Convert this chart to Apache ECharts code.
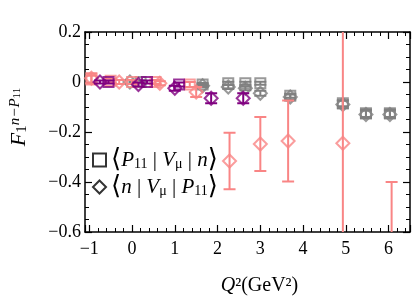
<!DOCTYPE html>
<html><head><meta charset="utf-8">
<script src="https://cdn.jsdelivr.net/npm/echarts@6/dist/echarts.min.js"></script>
<style>html,body{margin:0;padding:0;background:#fff}#c{width:415px;height:301px}</style>
</head><body><div id="c"></div>
<script>
// ---- data ----
// pink ensemble
const pinkSqX = [-0.95, -0.5, 0.0, 0.55, 1.35];
const pinkSqY = [0.01, 0.005, 0.0, 0.0, -0.01];
const pinkSqE = [0.015, 0.008, 0.008, 0.008, 0.01];
const pinkDiX = [-0.95, -0.3, 0.65, 1.5, 2.28, 3.0, 3.65, 4.93, 6.07];
const pinkDiY = [0.015, 0.0, -0.005, -0.04, -0.316, -0.248, -0.236, -0.245, -0.9];
const pinkDiE = [0.02, 0.008, 0.008, 0.02, 0.113, 0.108, 0.162, 1.0, 0.5];
// purple ensemble
const purpSqX = [-0.55, 0.35, 1.1];
const purpSqY = [0.0, 0.0, -0.01];
const purpSqE = [0.006, 0.006, 0.008];
const purpDiX = [-0.75, 0.15, 1.0, 1.85, 2.6];
const purpDiY = [0.0, -0.01, -0.025, -0.065, -0.065];
const purpDiE = [0.006, 0.008, 0.01, 0.02, 0.02];
// gray ensemble
const graySqX = [0.2, 1.65, 2.25, 2.65, 3.0, 3.7, 4.93, 5.47, 6.03];
const graySqY = [0.0, -0.01, -0.005, -0.005, -0.005, -0.055, -0.085, -0.125, -0.125];
const graySqE = [0.006, 0.006, 0.006, 0.006, 0.006, 0.008, 0.012, 0.015, 0.015];
const grayDiX = [-0.05, 1.65, 2.25, 2.65, 3.0, 3.7, 4.93, 5.47, 6.03];
const grayDiY = [0.0, -0.015, -0.02, -0.025, -0.045, -0.06, -0.09, -0.13, -0.13];
const grayDiE = [0.006, 0.006, 0.008, 0.008, 0.01, 0.01, 0.015, 0.015, 0.015];

const legendNames = ['sq', 'di'];

const PINK = '#f98585', PURP = '#800080', GRAY = '#808080';
const FONT = 'Liberation Serif';

function pts(xs, ys) { return xs.map((x, i) => [x, ys[i]]); }
function errs(xs, ys, es) { return xs.map((x, i) => [x, ys[i] - es[i], ys[i] + es[i]]); }

function errSeries(xs, ys, es, color, z) {
  return {
    type: 'custom', clip: true, z: z, silent: true,
    data: errs(xs, ys, es),
    renderItem: function (params, api) {
      const lo = api.coord([api.value(0), api.value(1)]);
      const hi = api.coord([api.value(0), api.value(2)]);
      const w = 6;
      const st = { stroke: color, lineWidth: 2 };
      return {
        type: 'group', children: [
          { type: 'line', shape: { x1: lo[0], y1: lo[1], x2: hi[0], y2: hi[1] }, style: st },
          { type: 'line', shape: { x1: lo[0] - w, y1: lo[1], x2: lo[0] + w, y2: lo[1] }, style: st },
          { type: 'line', shape: { x1: hi[0] - w, y1: hi[1], x2: hi[0] + w, y2: hi[1] }, style: st }
        ]
      };
    }
  };
}
function markSeries(xs, ys, color, sym, z) {
  return {
    type: 'scatter', z: z, data: pts(xs, ys), symbol: sym,
    symbolSize: sym === 'rect' ? 10 : 13,
    itemStyle: { color: 'rgba(255,255,255,0)', borderColor: color, borderWidth: 2 }
  };
}

const series = [
  errSeries(graySqX, graySqY, graySqE, GRAY, 2), markSeries(graySqX, graySqY, GRAY, 'rect', 3),
  errSeries(grayDiX, grayDiY, grayDiE, GRAY, 2), markSeries(grayDiX, grayDiY, GRAY, 'diamond', 3),
  errSeries(pinkSqX, pinkSqY, pinkSqE, PINK, 4), markSeries(pinkSqX, pinkSqY, PINK, 'rect', 5),
  errSeries(pinkDiX, pinkDiY, pinkDiE, PINK, 4), markSeries(pinkDiX, pinkDiY, PINK, 'diamond', 5),
  errSeries(purpSqX, purpSqY, purpSqE, PURP, 6), markSeries(purpSqX, purpSqY, PURP, 'rect', 7),
  errSeries(purpDiX, purpDiY, purpDiE, PURP, 6), markSeries(purpDiX, purpDiY, PURP, 'diamond', 7),
  { type: 'scatter', name: legendNames[0], data: [], symbol: 'rect',
    itemStyle: { color: 'rgba(255,255,255,0)', borderColor: '#000', borderWidth: 1.3 } },
  { type: 'scatter', name: legendNames[1], data: [], symbol: 'diamond',
    itemStyle: { color: 'rgba(255,255,255,0)', borderColor: '#000', borderWidth: 1.3 } }
];

const axLine = { show: true, onZero: false, lineStyle: { color: '#000', width: 1.5 } };
const tick = { show: true, inside: true, length: 7, lineStyle: { color: '#000', width: 1.2 } };
const minor = (n) => ({ show: true, splitNumber: n, length: 4, lineStyle: { color: '#000', width: 1 } });
const minus = (v) => String(+v.toFixed(2)).replace('-', '\u2212');

const xBase = { type: 'value', min: -1.1, max: 6.5, minInterval: 1, maxInterval: 1,
  axisLine: axLine, axisTick: tick, minorTick: minor(5), splitLine: { show: false } };
const yBase = { type: 'value', min: -0.6, max: 0.2, interval: 0.2,
  axisLine: axLine, axisTick: tick, minorTick: minor(4), splitLine: { show: false } };

const chart = echarts.init(document.getElementById('c'), null, { renderer: 'canvas' });
chart.setOption({
  animation: false,
  backgroundColor: '#fff',
  grid: { left: 84, right: 5, top: 32, bottom: 69 },
  xAxis: [
    Object.assign({}, xBase, { position: 'bottom',
      axisLabel: { show: true, showMinLabel: false, showMaxLabel: false, fontFamily: FONT, fontSize: 18, color: '#000', margin: 8, formatter: minus },
      name: '{i|Q}{t|²(GeV²)}', nameLocation: 'middle', nameGap: 44,
      nameTextStyle: { fontFamily: FONT, fontSize: 20, color: '#000', padding: [0, 0, 0, 24],
        rich: { i: { fontFamily: FONT, fontStyle: 'italic', fontSize: 20, color: '#000' },
                t: { fontFamily: FONT, fontSize: 20, color: '#000' } } } }),
    Object.assign({}, xBase, { position: 'top', axisLabel: { show: false } })
  ],
  yAxis: [
    Object.assign({}, yBase, { position: 'left',
      axisLabel: { show: true, fontFamily: FONT, fontSize: 18, color: '#000', margin: 4, formatter: minus },
      name: '{i|F}{s|1}{p|n−P}{q|11}', nameLocation: 'middle', nameRotate: 90, nameGap: 55,
      nameTextStyle: { fontFamily: FONT, fontSize: 20, color: '#000', padding: [0, 0, 0, 30],
        rich: {
          i: { fontFamily: FONT, fontStyle: 'italic', fontSize: 22, color: '#000' },
          s: { fontFamily: FONT, fontSize: 15, color: '#000', verticalAlign: 'bottom' },
          p: { fontFamily: FONT, fontStyle: 'italic', fontSize: 15, color: '#000', verticalAlign: 'top' },
          q: { fontFamily: FONT, fontSize: 11, color: '#000', verticalAlign: 'top', padding: [4, 0, 0, 0] }
        } } }),
    Object.assign({}, yBase, { position: 'right', axisLabel: { show: false } })
  ],
  legend: {
    show: true, left: 87, top: 142, orient: 'vertical', itemGap: 1,
    itemWidth: 13, itemHeight: 13,
    data: legendNames,
    formatter: function (n) {
      if (n === 'sq') return '{b|⟨}{i|P}{s|11}{t| | }{i|V}{s|μ}{t| | }{i|n}{b|⟩}';
      return '{b|⟨}{i|n}{t| | }{i|V}{s|μ}{t| | }{i|P}{s|11}{b|⟩}';
    },
    textStyle: {
      fontFamily: FONT, fontSize: 20, color: '#000',
      rich: {
        b: { fontFamily: 'DejaVu Serif', fontSize: 26, color: '#000', height: 27 },
        i: { fontFamily: FONT, fontStyle: 'italic', fontSize: 21, color: '#000', height: 27 },
        s: { fontFamily: FONT, fontSize: 14, color: '#000', verticalAlign: 'bottom', height: 18 },
        t: { fontFamily: FONT, fontSize: 21, color: '#000', height: 27 }
      }
    }
  },
  series: series
});
</script></body></html>
